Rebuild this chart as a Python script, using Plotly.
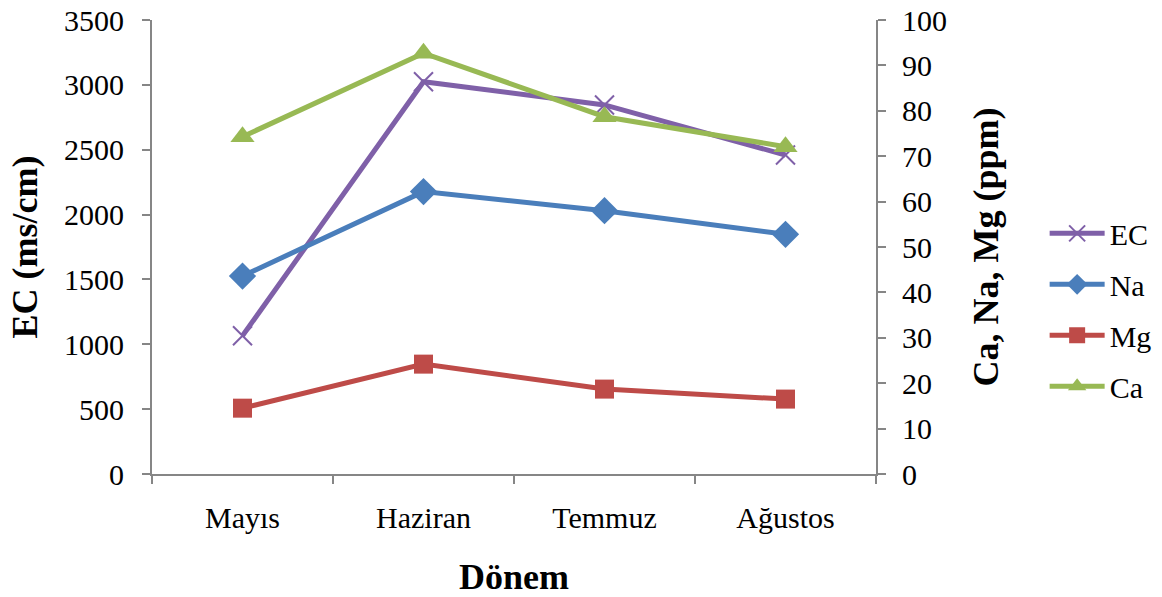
import plotly.graph_objects as go

months = ["Mayıs", "Haziran", "Temmuz", "Ağustos"]
ec = [1066, 3024, 2845, 2459]
na = [43.6, 62.2, 58.0, 52.8]
mg = [14.5, 24.2, 18.7, 16.5]
ca = [74.3, 92.7, 78.7, 72.1]

FONT = "Liberation Serif, Times New Roman, serif"
AXC = "#868686"

fig = go.Figure()
fig.add_trace(go.Scatter(x=months, y=ec, name="EC", mode="lines+markers", yaxis="y",
                         legendgroup="a",
                         line=dict(color="#7F60A8", width=5),
                         marker=dict(symbol="x-thin", size=19, line=dict(color="#7F60A8", width=2))))
fig.add_trace(go.Scatter(x=months, y=na, name="Na", mode="lines+markers", yaxis="y2",
                         legendgroup="b",
                         line=dict(color="#4A7EBB", width=5),
                         marker=dict(symbol="diamond", size=21, color="#4A7EBB")))
fig.add_trace(go.Scatter(x=months, y=mg, name="Mg", mode="lines+markers", yaxis="y2",
                         legendgroup="c",
                         line=dict(color="#BE4B48", width=5),
                         marker=dict(symbol="square", size=19, color="#BE4B48")))
fig.add_trace(go.Scatter(x=months, y=ca, name="Ca", mode="lines+markers", yaxis="y2",
                         legendgroup="d",
                         line=dict(color="#98B954", width=5),
                         marker=dict(symbol="triangle-up", size=21, color="#98B954")))

fig.update_layout(
    width=1162, height=597,
    margin=dict(l=152, r=286, t=20, b=123),
    paper_bgcolor="white", plot_bgcolor="white",
    font=dict(family=FONT, size=30, color="black"),
    showlegend=True,
    legend=dict(xref="container", yref="container", x=0.899, y=0.481,
                xanchor="left", yanchor="middle",
                font=dict(size=30), itemwidth=55, tracegroupgap=9,
                bgcolor="rgba(0,0,0,0)"),
    xaxis=dict(type="category", range=[-0.5, 3.5], tickson="boundaries",
               ticks="outside", ticklen=8, tickwidth=2, tickcolor=AXC,
               ticklabelstandoff=16, ticklabeloverflow="allow", automargin=False,
               showline=True, linecolor=AXC, linewidth=2, showgrid=False,
               zeroline=False,
               title=dict(text="<b>Dönem</b>", standoff=32)),
    yaxis=dict(range=[0, 3500], dtick=500, ticks="outside", ticklen=8,
               tickwidth=2, tickcolor=AXC, showline=True, linecolor=AXC,
               ticklabelstandoff=12, ticklabeloverflow="allow", automargin=False,
               linewidth=2, showgrid=False, zeroline=False,
               title=dict(text="<b>EC (ms/cm)</b>", standoff=15)),
    yaxis2=dict(range=[0, 100], dtick=10, overlaying="y", side="right",
                ticks="outside", ticklen=8, tickwidth=2, tickcolor=AXC,
                ticklabelstandoff=10, ticklabeloverflow="allow", automargin=False,
                showline=True, linecolor=AXC, linewidth=2, showgrid=False,
                zeroline=False,
                title=dict(text="<b>Ca, Na, Mg (ppm)</b>", standoff=27)),
)

fig.write_html("out.html", config={"displayModeBar": False},
               post_script="document.body.style.margin='0';")
